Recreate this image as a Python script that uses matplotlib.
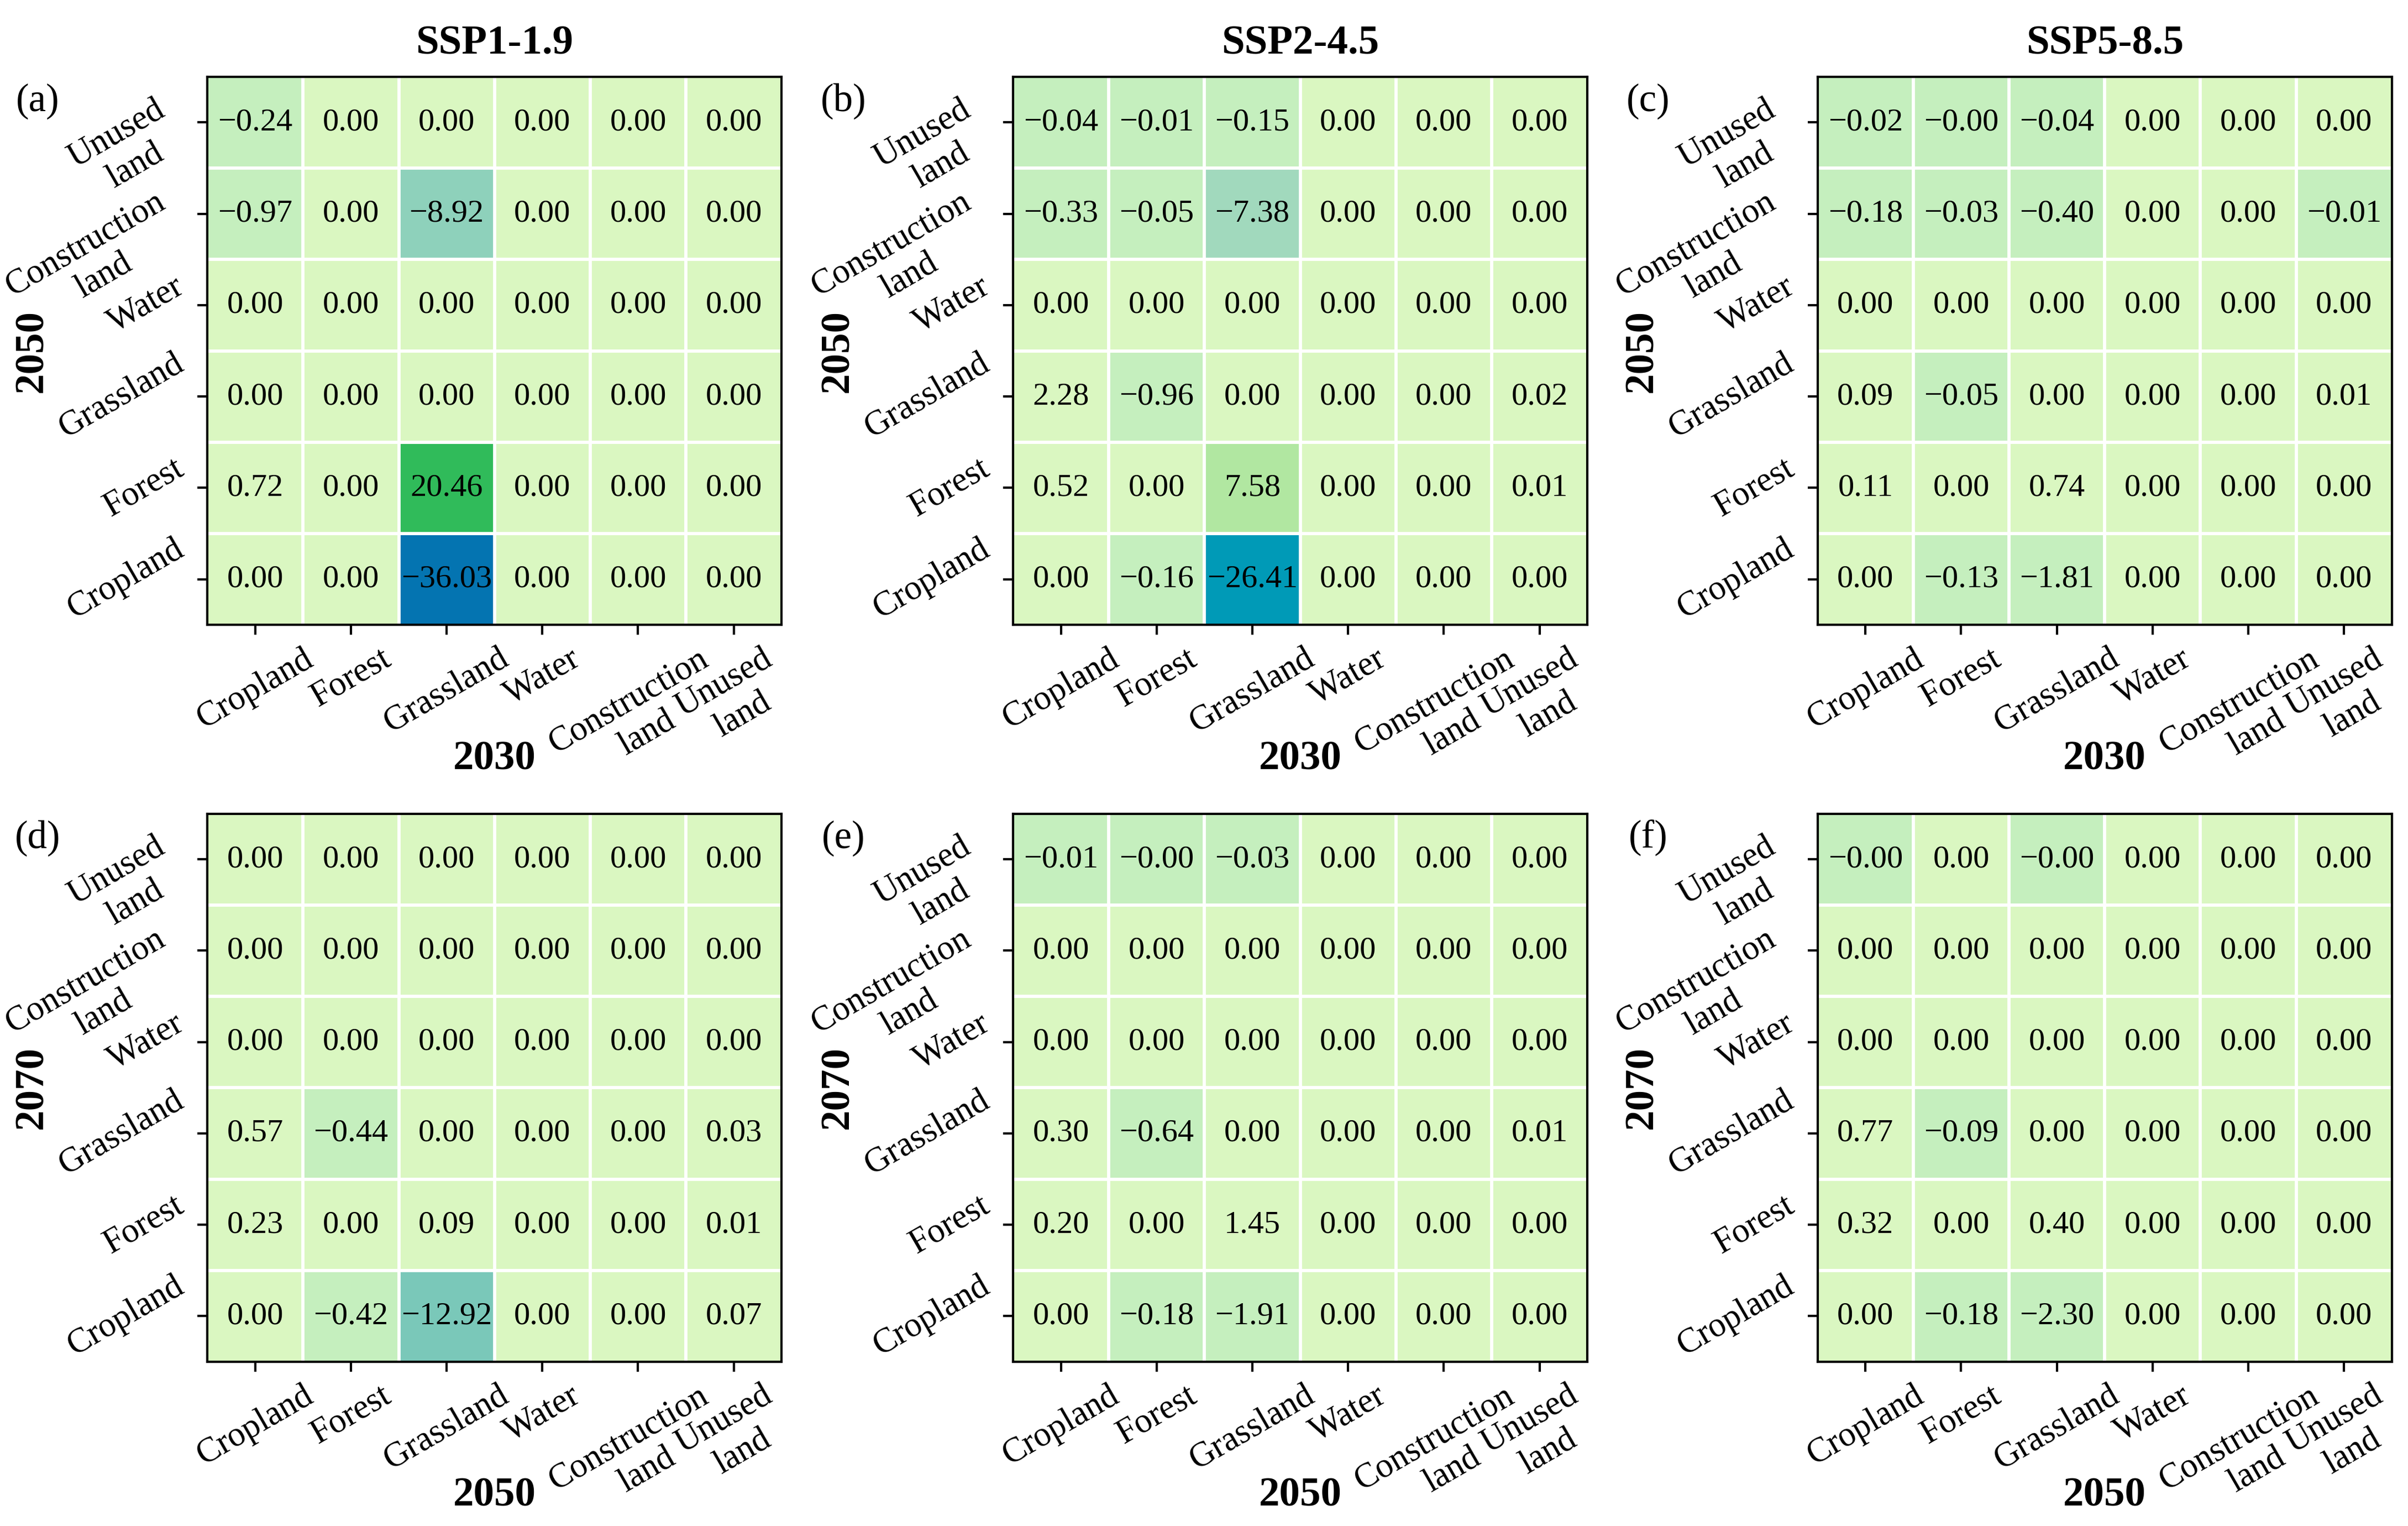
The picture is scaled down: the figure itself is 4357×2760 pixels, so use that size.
import numpy as np
import matplotlib
matplotlib.use("Agg")
import matplotlib.pyplot as plt
from matplotlib.colors import ListedColormap, BoundaryNorm
from matplotlib.transforms import ScaledTranslation

plt.rcParams["font.family"] = ["Liberation Serif", "DejaVu Serif"]

land_types = ["Cropland", "Forest", "Grassland", "Water", "Construction\nland", "Unused\nland"]
scenarios = ["SSP1-1.9", "SSP2-4.5", "SSP5-8.5"]
panel_tags = ["(a)", "(b)", "(c)", "(d)", "(e)", "(f)"]
periods = [("2030", "2050"), ("2050", "2070")]

# rows = land type in the later year (Cropland at bottom ... Unused land at top)
# cols = land type in the earlier year
ssp119_2030_2050 = [
    [0.00, 0.00, -36.03, 0.00, 0.00, 0.00],
    [0.72, 0.00, 20.46, 0.00, 0.00, 0.00],
    [0.00, 0.00, 0.00, 0.00, 0.00, 0.00],
    [0.00, 0.00, 0.00, 0.00, 0.00, 0.00],
    [-0.97, 0.00, -8.92, 0.00, 0.00, 0.00],
    [-0.24, 0.00, 0.00, 0.00, 0.00, 0.00],
]
ssp245_2030_2050 = [
    [0.00, -0.16, -26.41, 0.00, 0.00, 0.00],
    [0.52, 0.00, 7.58, 0.00, 0.00, 0.01],
    [2.28, -0.96, 0.00, 0.00, 0.00, 0.02],
    [0.00, 0.00, 0.00, 0.00, 0.00, 0.00],
    [-0.33, -0.05, -7.38, 0.00, 0.00, 0.00],
    [-0.04, -0.01, -0.15, 0.00, 0.00, 0.00],
]
ssp585_2030_2050 = [
    [0.00, -0.13, -1.81, 0.00, 0.00, 0.00],
    [0.11, 0.00, 0.74, 0.00, 0.00, 0.00],
    [0.09, -0.05, 0.00, 0.00, 0.00, 0.01],
    [0.00, 0.00, 0.00, 0.00, 0.00, 0.00],
    [-0.18, -0.03, -0.40, 0.00, 0.00, -0.01],
    [-0.02, -0.004, -0.04, 0.00, 0.00, 0.00],
]
ssp119_2050_2070 = [
    [0.00, -0.42, -12.92, 0.00, 0.00, 0.07],
    [0.23, 0.00, 0.09, 0.00, 0.00, 0.01],
    [0.57, -0.44, 0.00, 0.00, 0.00, 0.03],
    [0.00, 0.00, 0.00, 0.00, 0.00, 0.00],
    [0.00, 0.00, 0.00, 0.00, 0.00, 0.00],
    [0.00, 0.00, 0.00, 0.00, 0.00, 0.00],
]
ssp245_2050_2070 = [
    [0.00, -0.18, -1.91, 0.00, 0.00, 0.00],
    [0.20, 0.00, 1.45, 0.00, 0.00, 0.00],
    [0.30, -0.64, 0.00, 0.00, 0.00, 0.01],
    [0.00, 0.00, 0.00, 0.00, 0.00, 0.00],
    [0.00, 0.00, 0.00, 0.00, 0.00, 0.00],
    [-0.01, -0.004, -0.03, 0.00, 0.00, 0.00],
]
ssp585_2050_2070 = [
    [0.00, -0.18, -2.30, 0.00, 0.00, 0.00],
    [0.32, 0.00, 0.40, 0.00, 0.00, 0.00],
    [0.77, -0.09, 0.00, 0.00, 0.00, 0.00],
    [0.00, 0.00, 0.00, 0.00, 0.00, 0.00],
    [0.00, 0.00, 0.00, 0.00, 0.00, 0.00],
    [-0.004, 0.00, -0.004, 0.00, 0.00, 0.00],
]

matrices = [ssp119_2030_2050, ssp245_2030_2050, ssp585_2030_2050,
            ssp119_2050_2070, ssp245_2050_2070, ssp585_2050_2070]

bounds = [-40, -30, -20, -10, -8, -5, 0, 5, 10, 20, 30]
colors = ["#0474b1", "#009ab7", "#7ac8b9", "#8ed1bb", "#a1d9bd",
          "#c5efbe", "#daf7c1", "#b1e7a1", "#74cf7c", "#30bb5a"]
cmap = ListedColormap(colors)
norm = BoundaryNorm(bounds, cmap.N)

fig = plt.figure(figsize=(4357 / 300, 2760 / 300), dpi=300)
lefts = [0.0861, 0.4207, 0.7548]
bottoms = [0.5905, 0.1076]
w, h = 0.2385, 0.3592
shift_one = ScaledTranslation(0, -3 / 72, fig.dpi_scale_trans)
shift_two = ScaledTranslation(7 / 72, 2 / 72, fig.dpi_scale_trans)

for k, data in enumerate(matrices):
    r, c = divmod(k, 3)
    ax = fig.add_axes([lefts[c], bottoms[r], w, h])
    vals = np.array(data)
    ax.pcolormesh(vals, cmap=cmap, norm=norm)
    for i in range(1, 6):
        ax.axhline(i, color="white", lw=1.4)
        ax.axvline(i, color="white", lw=1.4)
    for i in range(6):
        for j in range(6):
            txt = f"{vals[i, j]:.2f}".replace("-", "\u2212")
            ax.text(j + 0.5, i + 0.5, txt, ha="center", va="center", fontsize=14, color="black")
    ax.set_xlim(0, 6)
    ax.set_ylim(0, 6)
    ax.set_xticks(np.arange(6) + 0.5)
    ax.set_yticks(np.arange(6) + 0.5)
    ax.set_xticklabels(land_types, rotation=30, fontsize=15)
    ax.set_yticklabels(land_types, rotation=30, ha="right", fontsize=15)
    for lab in ax.get_yticklabels():
        if "\n" in lab.get_text():
            lab.set_va("center_baseline")
            lab.set_multialignment("center")
            lab.set_transform(lab.get_transform() + shift_two)
        else:
            lab.set_va("center")
            lab.set_transform(lab.get_transform() + shift_one)
    ax.tick_params(direction="out", length=4.3, width=1.0)
    for sp in ax.spines.values():
        sp.set_linewidth(1.0)
    ax.set_xlabel(periods[r][0], fontsize=18, fontweight="bold", va="center")
    ax.xaxis.set_label_coords(0.5, -0.245)
    ax.set_ylabel(periods[r][1], fontsize=18, fontweight="bold", va="center")
    ax.yaxis.set_label_coords(-0.305, 0.5)
    ax.text(-0.295, 0.955, panel_tags[k], transform=ax.transAxes, ha="center", va="center", fontsize=17)
    if r == 0:
        ax.set_title(scenarios[c], fontsize=18, fontweight="bold", pad=10)

fig.savefig("out.png", dpi=300)
